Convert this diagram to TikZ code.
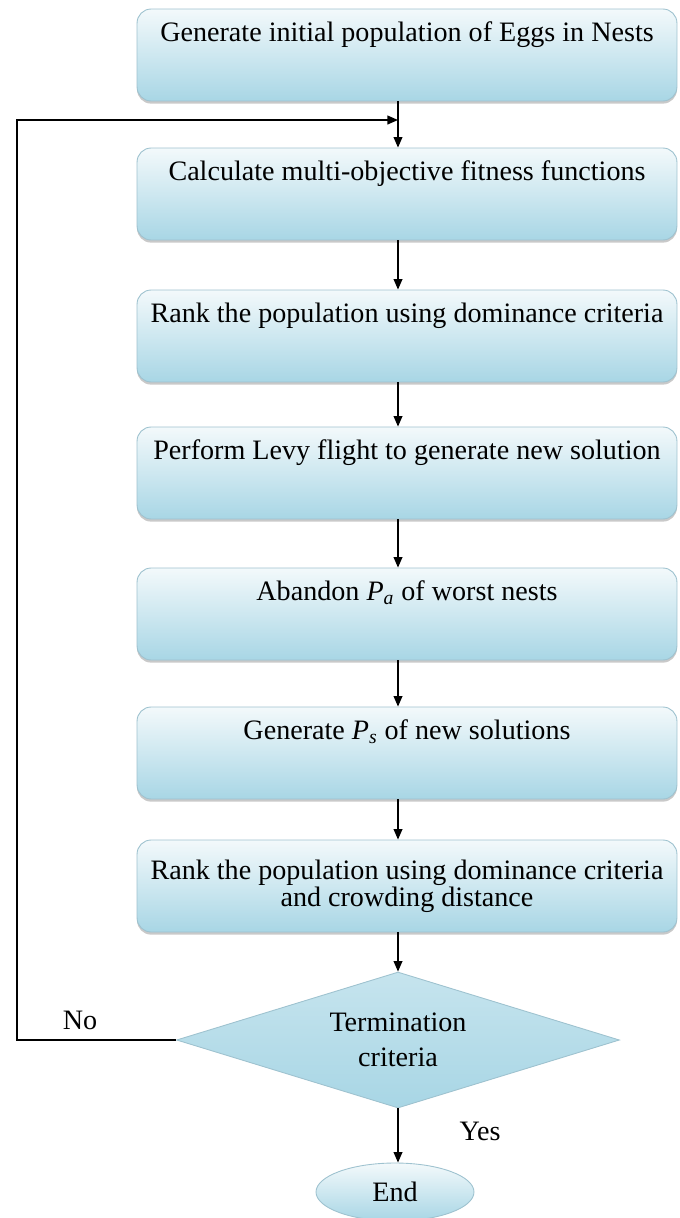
\documentclass[tikz,border=0pt]{standalone}
\usepackage{fontspec}
\setmainfont{Liberation Serif}
\usetikzlibrary{arrows.meta,shapes.geometric,shadows}
\definecolor{boxtop}{RGB}{243,249,251}
\definecolor{boxbot}{RGB}{168,214,229}
\definecolor{boxedge}{RGB}{158,194,207}
\tikzset{
  stepbox/.style={draw=boxedge, line width=0.5pt, rounded corners=8pt,
    top color=boxtop, bottom color=boxbot,
    minimum width=10.8cm, inner xsep=0pt, inner ysep=0pt,
    text height=0.64cm, text depth=1.2cm,
    font=\fontsize{16}{19}\selectfont,
    drop shadow={shadow xshift=0pt, shadow yshift=-1.5pt, opacity=0.3, fill=black!70}},
  twobox/.style={stepbox, text height=, text depth=, minimum height=1.84cm,
    align=center, font=\fontsize{16}{15.5}\selectfont},
  decbox/.style={diamond, aspect=3.25, draw=boxedge, line width=0.5pt,
    top color=boxtop!40!boxbot, bottom color=boxbot,
    minimum width=8.86cm, minimum height=2.72cm, inner sep=0pt,
    align=center, font=\fontsize{16}{20}\selectfont},
  endbox/.style={ellipse, draw=boxedge, line width=0.5pt,
    top color=boxtop, bottom color=boxbot,
    minimum width=3.16cm, minimum height=1.16cm, inner sep=0pt,
    font=\fontsize{16}{19}\selectfont},
  arr/.style={draw, line width=0.8pt, -{Triangle[length=6pt,width=5pt]}},
  lbl/.style={font=\fontsize{16}{19}\selectfont}
}
\begin{document}
\begin{tikzpicture}[x=0.02cm, y=-0.02cm]
\useasboundingbox (0, 0) rectangle (680, 1218);

% process steps
\node[stepbox] (b1) at (407, 55) {Generate initial population of Eggs in Nests};
\node[stepbox] (b2) at (407, 194) {Calculate multi-objective fitness functions};
\node[stepbox] (b3) at (407, 336) {Rank the population using dominance criteria};
\node[stepbox] (b4) at (407, 473) {Perform Levy flight to generate new solution};
\node[stepbox] (b5) at (407, 614) {Abandon \textit{P}\textsubscript{\textit{a}} of worst nests};
\node[stepbox] (b6) at (407, 753) {Generate \textit{P}\textsubscript{\textit{s}} of new solutions};
\node[twobox] (b7) at (407, 886) {Rank the population using dominance criteria\\and crowding distance};

% decision and end
\node[decbox] (dec) at (398, 1040) {Termination\\criteria};
\node[endbox] (end) at (395, 1192) {End};

\node[lbl] (no) at (80, 1020) {No};
\node[lbl] (yes) at (480, 1131) {Yes};

% connectors
\coordinate (ax) at (398, 0);
\coordinate (join) at (398, 120);
\draw[arr] (b1.south -| ax) -- (b2.north -| ax);
\draw[arr] (b2.south -| ax) -- (b3.north -| ax);
\draw[arr] (b3.south -| ax) -- (b4.north -| ax);
\draw[arr] (b4.south -| ax) -- (b5.north -| ax);
\draw[arr] (b5.south -| ax) -- (b6.north -| ax);
\draw[arr] (b6.south -| ax) -- (b7.north -| ax);
\draw[arr] (b7.south -| ax) -- (dec.north);
\draw[arr] (dec.south) -- (dec.south |- end.north);
\draw[arr] (dec.west) -- ++(-159, 0) |- (join);
\end{tikzpicture}
\end{document}
